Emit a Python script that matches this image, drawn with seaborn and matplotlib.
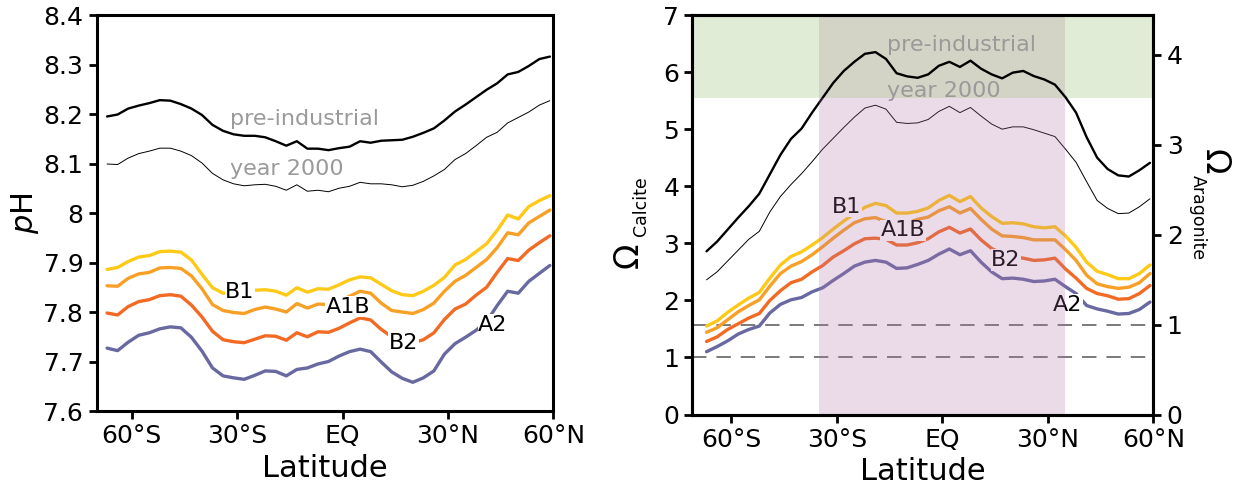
import numpy as np
import pandas as pd
import seaborn as sns
import matplotlib.pyplot as plt
from matplotlib.patches import Rectangle

sns.set_theme(style="ticks")
plt.rcParams['font.family'] = ['DejaVu Sans']
plt.rcParams['mathtext.fontset'] = 'dejavusans'
for k in ['text.color', 'axes.labelcolor', 'xtick.color', 'ytick.color', 'axes.edgecolor']:
    plt.rcParams[k] = 'black'

# ============================================================
# 数据
# ============================================================
lat = [-67, -64, -61, -58, -55, -52, -49, -46, -43, -40, -37, -34, -31, -28, -25,
       -22, -19, -16, -13, -10, -7, -4, -1, 2, 5, 8, 11, 14, 17, 20, 23, 26, 29,
       32, 35, 38, 41, 44, 47, 50, 53, 56, 59]

# 左图：pH
ph_pre = [8.195, 8.199, 8.211, 8.217, 8.222, 8.228, 8.227, 8.220, 8.211, 8.198, 8.178,
          8.166, 8.159, 8.156, 8.156, 8.153, 8.145, 8.136, 8.145, 8.130, 8.130, 8.127,
          8.131, 8.134, 8.145, 8.142, 8.146, 8.147, 8.148, 8.154, 8.162, 8.171, 8.187,
          8.205, 8.219, 8.234, 8.249, 8.262, 8.280, 8.285, 8.297, 8.311, 8.316]
ph_2000 = [8.099, 8.098, 8.111, 8.120, 8.125, 8.131, 8.131, 8.125, 8.116, 8.101, 8.080,
           8.067, 8.059, 8.055, 8.057, 8.058, 8.054, 8.046, 8.057, 8.044, 8.046, 8.043,
           8.050, 8.054, 8.062, 8.059, 8.059, 8.057, 8.053, 8.056, 8.064, 8.075, 8.088,
           8.108, 8.120, 8.136, 8.153, 8.163, 8.182, 8.193, 8.204, 8.218, 8.227]
ph_b1 = [7.886, 7.890, 7.902, 7.911, 7.914, 7.922, 7.923, 7.921, 7.905, 7.876, 7.849,
         7.838, 7.840, 7.842, 7.844, 7.845, 7.842, 7.834, 7.849, 7.840, 7.847, 7.846,
         7.855, 7.865, 7.871, 7.869, 7.856, 7.843, 7.835, 7.833, 7.842, 7.854, 7.870,
         7.895, 7.906, 7.922, 7.938, 7.965, 7.996, 7.988, 8.013, 8.025, 8.035]
ph_a1b = [7.853, 7.852, 7.868, 7.877, 7.880, 7.889, 7.890, 7.888, 7.873, 7.847, 7.815,
          7.803, 7.799, 7.797, 7.805, 7.810, 7.806, 7.800, 7.817, 7.808, 7.816, 7.815,
          7.822, 7.832, 7.842, 7.838, 7.818, 7.803, 7.800, 7.797, 7.805, 7.818, 7.842,
          7.862, 7.874, 7.890, 7.906, 7.930, 7.960, 7.956, 7.980, 7.993, 8.006]
ph_b2 = [7.798, 7.794, 7.811, 7.821, 7.825, 7.833, 7.835, 7.832, 7.814, 7.790, 7.761,
         7.744, 7.740, 7.738, 7.745, 7.752, 7.751, 7.743, 7.758, 7.750, 7.760, 7.759,
         7.767, 7.778, 7.788, 7.784, 7.765, 7.750, 7.742, 7.738, 7.744, 7.758, 7.785,
         7.806, 7.816, 7.834, 7.850, 7.880, 7.908, 7.904, 7.925, 7.940, 7.954]
ph_a2 = [7.727, 7.722, 7.739, 7.753, 7.758, 7.766, 7.770, 7.768, 7.749, 7.721, 7.687,
         7.671, 7.667, 7.664, 7.672, 7.681, 7.680, 7.671, 7.684, 7.687, 7.695, 7.700,
         7.711, 7.720, 7.725, 7.720, 7.699, 7.679, 7.666, 7.658, 7.667, 7.681, 7.715,
         7.736, 7.749, 7.763, 7.781, 7.813, 7.842, 7.838, 7.862, 7.878, 7.894]

# 右图：方解石饱和度
om_pre = [2.86, 3.03, 3.24, 3.45, 3.65, 3.87, 4.21, 4.55, 4.83, 5.01, 5.29, 5.55, 5.81,
          6.02, 6.18, 6.32, 6.35, 6.23, 5.98, 5.925, 5.90, 5.96, 6.11, 6.18, 6.09, 6.20,
          6.06, 5.96, 5.89, 5.99, 6.02, 5.93, 5.87, 5.78, 5.56, 5.29, 4.86, 4.50, 4.30,
          4.19, 4.17, 4.28, 4.41]
om_2000 = [2.36, 2.50, 2.69, 2.88, 3.07, 3.21, 3.55, 3.82, 4.03, 4.22, 4.43, 4.65, 4.84,
           5.03, 5.21, 5.37, 5.42, 5.35, 5.12, 5.10, 5.11, 5.17, 5.31, 5.40, 5.29, 5.38,
           5.23, 5.09, 5.00, 5.04, 5.04, 4.99, 4.93, 4.87, 4.65, 4.42, 4.08, 3.75, 3.61,
           3.52, 3.53, 3.64, 3.78]
om_b1 = [1.55, 1.64, 1.79, 1.92, 2.04, 2.14, 2.39, 2.62, 2.77, 2.85, 2.97, 3.10, 3.25,
         3.39, 3.52, 3.63, 3.70, 3.66, 3.53, 3.53, 3.56, 3.62, 3.75, 3.84, 3.73, 3.82,
         3.62, 3.47, 3.35, 3.36, 3.34, 3.29, 3.27, 3.29, 3.13, 2.93, 2.67, 2.51, 2.45,
         2.38, 2.38, 2.47, 2.62]
om_a1b = [1.44, 1.52, 1.66, 1.80, 1.91, 2.01, 2.25, 2.47, 2.60, 2.68, 2.80, 2.94, 3.09,
          3.23, 3.36, 3.43, 3.45, 3.38, 3.33, 3.35, 3.42, 3.46, 3.57, 3.64, 3.53, 3.61,
          3.42, 3.25, 3.13, 3.12, 3.10, 3.06, 3.06, 3.06, 2.89, 2.70, 2.44, 2.29, 2.24,
          2.21, 2.23, 2.31, 2.47]
om_b2 = [1.28, 1.36, 1.49, 1.59, 1.69, 1.77, 2.00, 2.17, 2.31, 2.37, 2.50, 2.61, 2.76,
         2.87, 2.99, 3.08, 3.09, 3.07, 2.97, 2.97, 3.01, 3.08, 3.20, 3.28, 3.18, 3.25,
         3.06, 2.91, 2.82, 2.76, 2.74, 2.70, 2.71, 2.74, 2.55, 2.39, 2.21, 2.12, 2.08,
         2.02, 2.03, 2.12, 2.26]
om_a2 = [1.10, 1.19, 1.29, 1.41, 1.49, 1.55, 1.78, 1.93, 2.01, 2.05, 2.15, 2.22, 2.35,
         2.47, 2.60, 2.67, 2.70, 2.67, 2.56, 2.57, 2.63, 2.70, 2.81, 2.90, 2.80, 2.87,
         2.67, 2.50, 2.38, 2.39, 2.37, 2.33, 2.34, 2.37, 2.24, 2.12, 1.91, 1.85, 1.81,
         1.76, 1.77, 1.84, 1.97]

scenarios = ['B1', 'A1B', 'B2', 'A2']
colors = {'B1': '#FFC918', 'A1B': '#F8A026', 'B2': '#F26A24', 'A2': '#6869A1'}

# 标签位置 (纬度, 值)
ph_label_pos = {'B1': (-29.2, 7.841), 'A1B': (1.6, 7.811), 'B2': (17.3, 7.738), 'A2': (42.8, 7.774)}
om_label_pos = {'B1': (-27.2, 3.64), 'A1B': (-11.2, 3.23), 'B2': (18.1, 2.71), 'A2': (35.7, 1.92)}

arag_ratio = 1.575      # Ω_calcite / Ω_aragonite
green_lim = 5.55        # 绿色区域下界
band_lat = (-35, 35)    # 热带区域

lat_ticks = [-60, -30, 0, 30, 60]
lat_labels = ['60°S', '30°S', 'EQ', '30°N', '60°N']
ph_ticks = [7.6, 7.7, 7.8, 7.9, 8.0, 8.1, 8.2, 8.3, 8.4]

ph_df = pd.DataFrame({'lat': lat, 'pre': ph_pre, 'y2000': ph_2000, 'B1': ph_b1,
                      'A1B': ph_a1b, 'B2': ph_b2, 'A2': ph_a2})
om_df = pd.DataFrame({'lat': lat, 'pre': om_pre, 'y2000': om_2000, 'B1': om_b1,
                      'A1B': om_a1b, 'B2': om_b2, 'A2': om_a2})

# ============================================================
# 画图
# ============================================================
W, H = 1233, 486
fig = plt.figure(figsize=(W / 100, H / 100), dpi=100)
axL = fig.add_axes([0.0783, 0.1543, 0.3705, 0.8148])
axR = fig.add_axes([0.5616, 0.1471, 0.3739, 0.8220])

TICK_FS = 18
LAB_FS = 22
SC_FS = 16
GRAY_FS = 16
gray = '#9A9A9A'


def style_axis(ax):
    for s in ax.spines.values():
        s.set_linewidth(2.2)
        s.set_color('black')
    ax.tick_params(direction='out', length=6, width=2, labelsize=TICK_FS, colors='black')
    ax.set_xticks(lat_ticks)
    ax.set_xticklabels(lat_labels)
    ax.set_xlabel('Latitude', fontsize=LAB_FS, labelpad=4)


# ---------- 左图 ----------
sns.lineplot(data=ph_df, x='lat', y='pre', ax=axL, color='black', linewidth=1.7)
sns.lineplot(data=ph_df, x='lat', y='y2000', ax=axL, color='black', linewidth=0.7)
for sc in scenarios:
    sns.lineplot(data=ph_df, x='lat', y=sc, ax=axL, color=colors[sc], linewidth=2.4)
    x, y = ph_label_pos[sc]
    axL.text(x, y, sc, fontsize=SC_FS, ha='center', va='center', zorder=2.5,
             bbox=dict(facecolor='white', edgecolor='none', pad=0.5))
axL.text(-31.9, 8.190, 'pre-industrial', color=gray, fontsize=GRAY_FS, va='center')
axL.text(-31.9, 8.089, 'year 2000', color=gray, fontsize=GRAY_FS, va='center')

axL.set_xlim(-70, 60)
axL.set_ylim(7.6, 8.4)
axL.set_yticks(ph_ticks)
axL.set_yticklabels([f'{v:g}' for v in ph_ticks])
axL.set_ylabel('$p$H', fontsize=LAB_FS, labelpad=2)
style_axis(axL)

# ---------- 右图 ----------
axR.add_patch(Rectangle((-71, green_lim), 131, 7 - green_lim, facecolor='#E0ECD5',
                        edgecolor='none', zorder=0))
axR.add_patch(Rectangle((band_lat[0], green_lim), band_lat[1] - band_lat[0], 7 - green_lim,
                        facecolor='#D4D4C6', edgecolor='none', zorder=0.5))
axR.axhline(1.0, color='#707070', lw=1.3, ls=(0, (8, 5.5)), zorder=1)
axR.axhline(arag_ratio, color='#707070', lw=1.3, ls=(0, (8, 5.5)), zorder=1)

sns.lineplot(data=om_df, x='lat', y='pre', ax=axR, color='black', linewidth=1.7)
sns.lineplot(data=om_df, x='lat', y='y2000', ax=axR, color='black', linewidth=0.7)
for sc in scenarios:
    sns.lineplot(data=om_df, x='lat', y=sc, ax=axR, color=colors[sc], linewidth=2.4)
    x, y = om_label_pos[sc]
    axR.text(x, y, sc, fontsize=SC_FS, ha='center', va='center', zorder=2.5,
             bbox=dict(facecolor='white', edgecolor='none', pad=0.5))
axR.text(-15.8, 6.47, 'pre-industrial', color=gray, fontsize=GRAY_FS, va='center', zorder=2.6)
axR.text(-15.8, 5.66, 'year 2000', color=gray, fontsize=GRAY_FS, va='center', zorder=2.6)

# 热带区域（半透明覆盖）
axR.add_patch(Rectangle((band_lat[0], 0), band_lat[1] - band_lat[0], green_lim,
                        facecolor='#B373AB', alpha=0.25, edgecolor='none', zorder=3))

axR.set_xlim(-71, 60)
axR.set_ylim(0, 7)
axR.set_yticks(range(8))
axR.set_ylabel('')
style_axis(axR)

ax2 = axR.twinx()
ax2.set_ylim(0, 7 / arag_ratio)
ax2.set_yticks([0, 1, 2, 3, 4])
for s in ax2.spines.values():
    s.set_linewidth(2.2)
    s.set_color('black')
ax2.tick_params(direction='out', length=6, width=2, labelsize=TICK_FS, colors='black')
ax2.set_ylabel('')

# Ω 标签：大号 Ω + 小号下标
fig.text(628 / W, 1 - 255 / H, 'Ω', fontsize=24, rotation=90, ha='center', va='center')
fig.text(641 / W, 1 - 206 / H, 'Calcite', fontsize=12.5, rotation=90, ha='center', va='center')
fig.text(1214 / W, 1 - 162 / H, 'Ω', fontsize=24, rotation=270, ha='center', va='center')
fig.text(1198 / W, 1 - 218 / H, 'Aragonite', fontsize=12.5, rotation=270, ha='center', va='center')

plt.savefig('out.png', dpi=100)
